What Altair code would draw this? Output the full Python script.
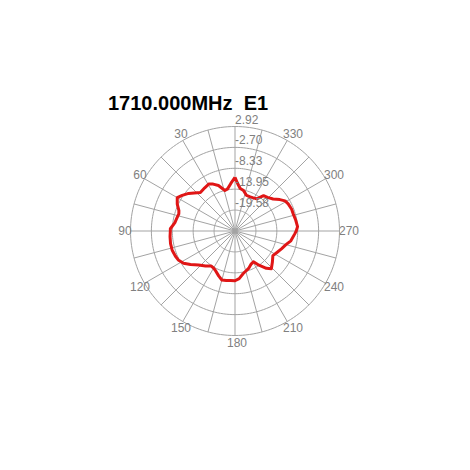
import altair as alt
import pandas as pd
import numpy as np

# ---------------- data ----------------
TITLE = "1710.000MHz\u00a0\u00a0E1"
RING_VALUES = [2.92, -2.70, -8.33, -13.95, -19.58]
RING_LABELS = ["2.92", "-2.70", "-8.33", "-13.95", "-19.58"]
CENTER_DB = -25.21
SPOKE_STEP = 15
ANGLE_LABELS = [30, 60, 90, 120, 150, 180, 210, 240, 270, 300, 330]

PATTERN_ANGLES = [0, 5, 10, 14, 20, 25, 29, 35, 42, 47, 51, 56, 60, 65, 70, 73, 78, 82,
                  88, 90, 95, 101, 107, 113, 117, 122, 127, 133, 140, 146, 150, 153, 160,
                  165, 170, 175, 180, 185, 191, 200, 206, 211, 215, 220, 224, 230, 237,
                  242, 249, 255, 260, 267, 270, 274, 280, 286, 291, 297, 301, 305, 310,
                  316, 321, 326, 331, 336, 342, 348, 353, 357, 360]
PATTERN_DB = [-10.74, -12.35, -13.69, -13.96, -12.19, -11.28, -10.74, -11.01, -11.28,
              -10.21, -9.14, -8.06, -7.26, -8.06, -9.14, -9.40, -9.14, -8.87,
              -7.80, -7.80, -7.66, -7.53, -7.53, -7.80, -8.06, -8.87, -10.21, -11.82,
              -12.89, -13.82, -13.69, -13.42, -12.35,
              -11.55, -11.68, -11.82, -11.82, -12.35, -13.56, -14.49, -15.30, -15.57,
              -13.96, -12.08, -11.12, -12.08, -13.05,
              -12.62, -11.82, -11.01, -9.94, -9.14, -8.73, -8.33, -8.60, -8.87, -8.87,
              -9.14, -9.48, -10.48, -11.82,
              -12.62, -12.99, -14.76, -15.03, -15.16, -15.14, -14.09, -13.69, -12.35,
              -10.74]

# ---------------- layout ----------------
PLOT_W = 260
PLOT_H = 260
R_PX = 104.5           # outer ring radius in pixels
CX_PX = 130            # centre within plot area
CY_PX = 116
R_MAX = RING_VALUES[0] - CENTER_DB
K = R_PX / R_MAX
XDOM = [-CX_PX / K, (PLOT_W - CX_PX) / K]
YDOM = [-(PLOT_H - CY_PX) / K, CY_PX / K]
LABEL_R = R_MAX + 7.5 / K

GRID = "#a3a3a3"
LABEL = "#808080"
RED = "#e01616"
FONT = "Liberation Sans"

xs = alt.Scale(domain=XDOM, nice=False, zero=False)
ys = alt.Scale(domain=YDOM, nice=False, zero=False)


def polar(chart, rexpr):
    return chart.transform_calculate(
        r=rexpr,
    ).transform_calculate(
        px="-datum.r * sin(datum.angle * PI / 180)",
        py="datum.r * cos(datum.angle * PI / 180)",
    )


# rings
ring_rows = []
for v in RING_VALUES:
    for a in np.arange(0, 361, 2):
        ring_rows.append({"ring": v, "angle": float(a)})
ring_df = pd.DataFrame(ring_rows)
rings = polar(alt.Chart(ring_df), f"datum.ring - ({CENTER_DB})").mark_line(
    color=GRID, strokeWidth=1
).encode(
    x=alt.X("px:Q", scale=xs, axis=None),
    y=alt.Y("py:Q", scale=ys, axis=None),
    detail="ring:N",
    order="angle:Q",
)

# spokes
spoke_df = pd.DataFrame({"angle": np.arange(0, 360, SPOKE_STEP).astype(float)})
spokes = alt.Chart(spoke_df).transform_calculate(
    px2=f"-{R_MAX} * sin(datum.angle * PI / 180)",
    py2=f"{R_MAX} * cos(datum.angle * PI / 180)",
    zero="0",
).mark_rule(color=GRID, strokeWidth=1).encode(
    x=alt.X("zero:Q", scale=xs, axis=None),
    y=alt.Y("zero:Q", scale=ys, axis=None),
    x2="px2:Q",
    y2="py2:Q",
)

# pattern
pat_df = pd.DataFrame({"angle": PATTERN_ANGLES, "db": PATTERN_DB})
pattern = polar(alt.Chart(pat_df), f"datum.db - ({CENTER_DB})").mark_line(
    color=RED, strokeWidth=3, strokeJoin="round"
).encode(
    x=alt.X("px:Q", scale=xs, axis=None),
    y=alt.Y("py:Q", scale=ys, axis=None),
    order="angle:Q",
)

# ring labels
rl_df = pd.DataFrame({"ring": RING_VALUES, "label": RING_LABELS})
ring_labels = alt.Chart(rl_df).transform_calculate(
    px="0", py=f"datum.ring - ({CENTER_DB})"
).mark_text(
    align="left", baseline="alphabetic", dx=0, dy=-3, font=FONT, fontSize=12, color=LABEL
).encode(
    x=alt.X("px:Q", scale=xs, axis=None),
    y=alt.Y("py:Q", scale=ys, axis=None),
    text="label:N",
)

# angle labels
al_df = pd.DataFrame({"angle": ANGLE_LABELS})
angle_labels = alt.Chart(al_df).transform_calculate(
    px=f"-{LABEL_R} * sin(datum.angle * PI / 180)",
    py=f"{LABEL_R} * cos(datum.angle * PI / 180)",
    txt="'' + datum.angle",
).mark_text(
    align="center", baseline="middle", dx=2, font=FONT, fontSize=12, color=LABEL
).encode(
    x=alt.X("px:Q", scale=xs, axis=None),
    y=alt.Y("py:Q", scale=ys, axis=None),
    text="txt:N",
)

chart = alt.layer(rings, spokes, pattern, ring_labels, angle_labels).properties(
    width=PLOT_W,
    height=PLOT_H,
    padding={"left": 97, "top": 85, "right": 5, "bottom": 5},
    title=alt.TitleParams(
        TITLE, anchor="start", fontSize=20, font=FONT, fontWeight="bold",
        color="black", dx=3, offset=0,
    ),
).configure_view(stroke=None)

chart.save("out.html", embed_options={"renderer": "svg", "actions": False})
